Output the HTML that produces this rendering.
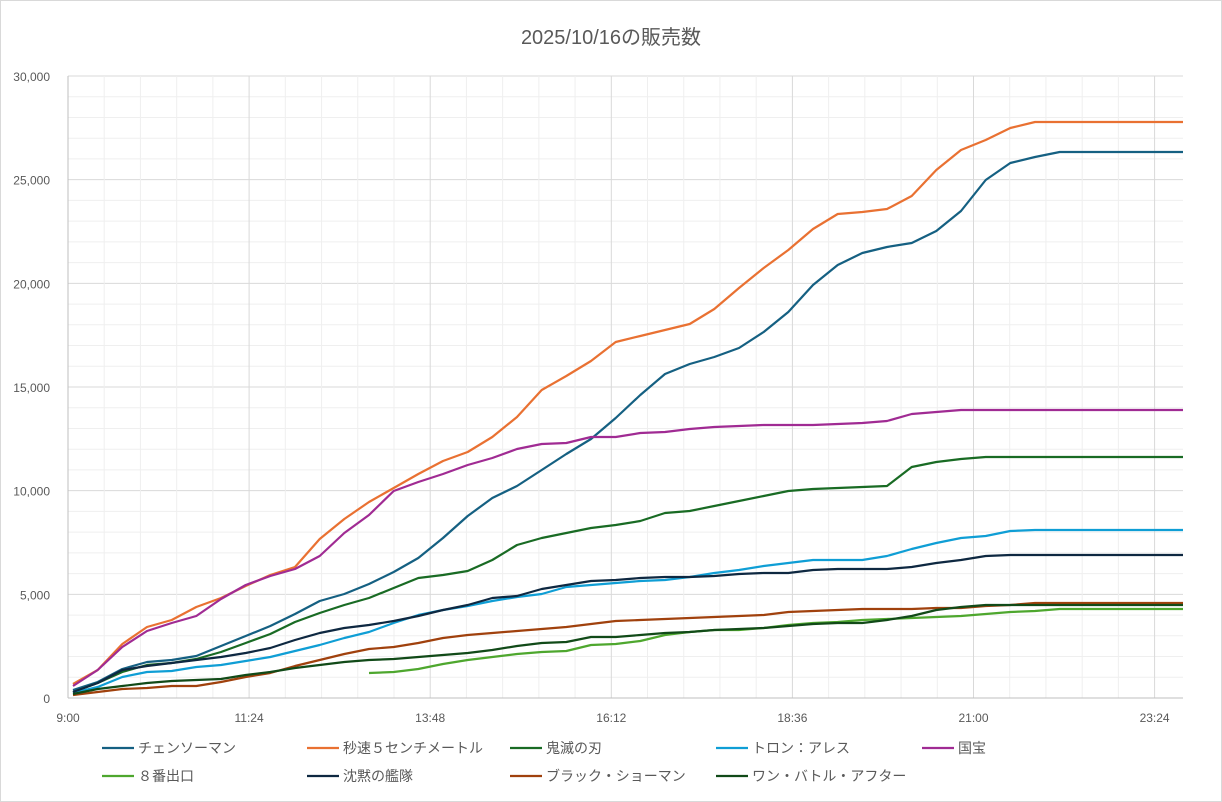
<!DOCTYPE html>
<html><head><meta charset="utf-8"><style>
body{margin:0;background:#fff}
svg{display:block;font-family:"Liberation Sans","Noto Sans CJK JP",sans-serif}
</style></head><body>
<svg id="s" width="1222" height="802" xmlns="http://www.w3.org/2000/svg">
<rect x="0.5" y="0.5" width="1221" height="801" fill="#fff" stroke="#d9d9d9"/>
<text x="611" y="44" text-anchor="middle" font-size="20" fill="#595959">2025/10/16の販売数</text>
<g id="grid"></g><g id="lines"></g><g id="leg"></g>
</svg>
<script>
const NS="http://www.w3.org/2000/svg",s=document.getElementById('s');
function el(p,t,a,txt){const e=document.createElementNS(NS,t);for(const k in a)e.setAttribute(k,a[k]);if(txt!=null)e.textContent=txt;document.getElementById(p).appendChild(e);return e;}
const L=68,R=1183,T=76,B=698;
for(let v=0;v<=30;v++){const y=B-(B-T)*v/30;el('grid','line',{x1:L,x2:R,y1:y,y2:y,stroke:v%5?'#efefef':'#d9d9d9','stroke-width':1});
 if(v%5==0)el('grid','text',{x:50,y:y+5,'text-anchor':'end','font-size':12,fill:'#595959'},(v*1000).toLocaleString('en-US'));}
const xl=['9:00','11:24','13:48','16:12','18:36','21:00','23:24'];
for(let i=0;i<=30;i++){const x=L+36.22*i;if(x>R+1)break;el('grid','line',{x1:x,x2:x,y1:T,y2:B,stroke:i%5?'#efefef':'#d9d9d9','stroke-width':1});
 if(i%5==0)el('grid','text',{x:x,y:722,'text-anchor':'middle','font-size':12,fill:'#595959'},xl[i/5]);}
el('grid','line',{x1:L,x2:L,y1:T,y2:B,stroke:'#bfbfbf'});el('grid','line',{x1:L,x2:R,y1:B,y2:B,stroke:'#bfbfbf'});
function pad(a,n){while(a.length<n)a.push(a[a.length-1]);return a;}
const S=[
['チェンソーマン','#156082',[690,682,669,662,660,656,646,636,626,614,601,594,584,572,558,538,516,498,486,470,454,439,418,395,374,364,357,348,332,312,285,265,253,247,243,231,211,180,163,157,152]],
['秒速５センチメートル','#e97132',[684,670,644,627,620,607,598,586,575,567,539,519,502,488,474,461,452,437,417,390,376,361,342,336,330,324,309,288,268,250,229,214,212,209,196,170,150,140,128,122]],
['鬼滅の刃','#196b24',[692,683,672,665,663,659,652,643,634,622,613,605,598,588,578,575,571,560,545,538,533,528,525,521,513,511,506,501,496,491,489,488,487,486,467,462,459,457]],
['トロン：アレス','#0f9ed5',[693,687,677,672,671,667,665,661,657,651,645,638,632,623,615,610,606,601,597,594,587,585,583,581,580,577,573,570,566,563,560,560,560,556,549,543,538,536,531,530]],
['国宝','#a02b93',[686,670,647,631,623,616,599,585,576,569,556,533,515,491,482,474,465,458,449,444,443,437,437,433,432,429,427,426,425,425,425,424,423,421,414,412,410]],
['８番出口','#4ea72e',null],
['沈黙の艦隊','#0e2841',[692,683,670,666,663,660,657,653,648,640,633,628,625,621,616,610,605,598,596,589,585,581,580,578,577,577,576,574,573,573,570,569,569,569,567,563,560,556,555]],
['ブラック・ショーマン','#a0410d',[695,692,689,688,686,686,682,677,673,666,660,654,649,647,643,638,635,633,631,629,627,624,621,620,619,618,617,616,615,612,611,610,609,609,609,608,608,606,605,603]],
['ワン・バトル・アフター','#114a18',[694,689,686,683,681,680,679,675,672,668,665,662,660,659,657,655,653,650,646,643,642,637,637,635,633,632,630,629,628,626,624,623,623,620,616,610,607,605]]
];
const g8=[673,672,669,664,660,657,654,652,651,645,644,641,635,632,630,630,628,625,623,622,620,619,618,617,616,614,612,611,609];
const step=(R-73)/45;
S.forEach((sr,k)=>{let pts;
 if(sr[2]){const a=pad(sr[2].slice(),46);pts=a.map((y,i)=>(73+step*i).toFixed(1)+','+y);}
 else{const a=pad(g8.slice(),34);pts=a.map((y,i)=>(73+step*(i+12)).toFixed(1)+','+y);}
 el('lines','polyline',{points:pts.join(' '),fill:'none',stroke:sr[1],'stroke-width':2.2,'stroke-linejoin':'round'});
 const r=k<5?0:1,c=k<5?k:k-5;const lx=[102,307,510,716,922][c],ly=[748,776][r];
 el('leg','line',{x1:lx,x2:lx+32,y1:ly,y2:ly,stroke:sr[1],'stroke-width':2.2});
 el('leg','text',{x:lx+36,y:ly+5,'font-size':14,fill:'#595959'},sr[0]);
});
</script>
</body></html>
